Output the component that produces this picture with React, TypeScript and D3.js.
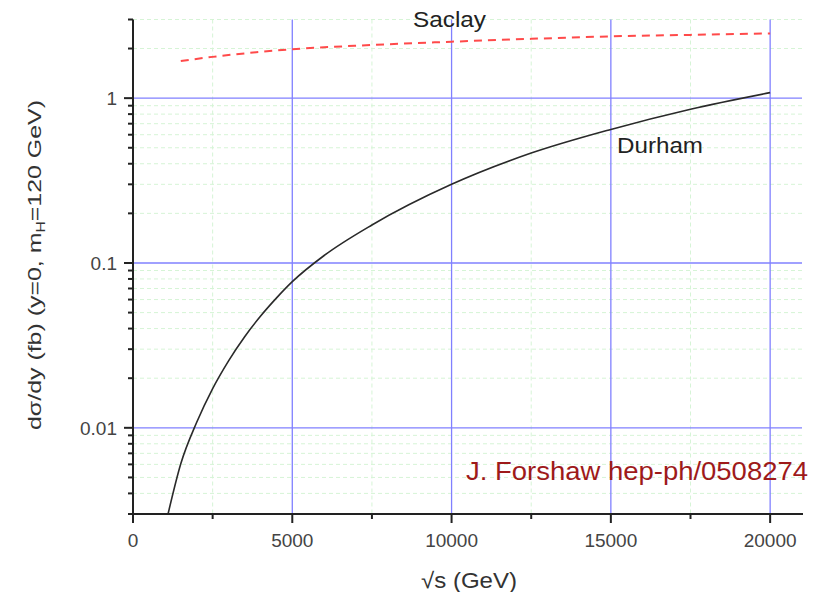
import React from "react";
import * as d3 from "d3";

const durhamX = [1100, 1500, 2000, 2500, 3000, 3500, 4000, 4500, 5000, 6000, 7500, 10000, 12500, 15000, 17500, 20000];
const durhamY = [0.003, 0.00605, 0.0108, 0.0173, 0.0255, 0.0356, 0.0475, 0.0612, 0.077, 0.111, 0.17, 0.30, 0.464, 0.646, 0.857, 1.08];
const saclayX = [1500, 2500, 5000, 7500, 10000, 12500, 15000, 17500, 20000];
const saclayY = [1.68, 1.78, 1.98, 2.10, 2.20, 2.29, 2.37, 2.42, 2.47];
const xMajorTicks = [0, 5000, 10000, 15000, 20000];
const xMinorTicks = [2500, 7500, 12500, 17500];
const yMajorTicks = [0.01, 0.1, 1];
const yTickLabels = ["0.01", "0.1", "1"];

const W = 825;
const H = 592;
const FONT = "'Liberation Sans', Arial, Helvetica, sans-serif";

export default function App() {
  const x = d3.scaleLinear().domain([0, 21000]).range([133, 802]);
  const y = d3.scaleLog().domain([0.003, 3]).range([514, 19.5]);

  const yMinor: number[] = [];
  [0.001, 0.01, 0.1, 1].forEach((dec) => {
    for (let k = 2; k <= 9; k++) {
      const v = dec * k;
      if (v >= 0.003 && v <= 3.0001) yMinor.push(v);
    }
  });

  const line = d3
    .line<[number, number]>()
    .x((d) => x(d[0]))
    .y((d) => y(d[1]))
    .curve(d3.curveMonotoneX);

  const durham = durhamX.map((v, i) => [v, durhamY[i]] as [number, number]);
  const saclay = saclayX.map((v, i) => [v, saclayY[i]] as [number, number]);

  const [x0, x1] = x.range();
  const [yb, yt] = y.range();

  return (
    <svg
      width={W}
      height={H}
      style={{ position: "absolute", left: 0, top: 0, background: "#fff" }}
      fontFamily={FONT}
    >
      <rect x={0} y={0} width={W} height={H} fill="#fff" />
      <defs>
        <clipPath id="plot">
          <rect x={x0} y={yt} width={x1 - x0} height={yb - yt} />
        </clipPath>
      </defs>

      {/* minor grid */}
      {yMinor.map((v) => (
        <line key={"gy" + v} x1={x0} x2={x1} y1={y(v)} y2={y(v)} stroke="#d6f4d6" strokeWidth={1} strokeDasharray="4,3" />
      ))}
      {xMinorTicks.map((v) => (
        <line key={"gx" + v} x1={x(v)} x2={x(v)} y1={yt} y2={yb} stroke="#d6f4d6" strokeWidth={1} strokeDasharray="4,3" />
      ))}

      {/* major grid */}
      {yMajorTicks.map((v) => (
        <line key={"My" + v} x1={x0} x2={x1} y1={y(v)} y2={y(v)} stroke="#8080ff" strokeWidth={1.3} />
      ))}
      {xMajorTicks.filter((v) => v > 0).map((v) => (
        <line key={"Mx" + v} x1={x(v)} x2={x(v)} y1={yt} y2={yb} stroke="#8080ff" strokeWidth={1.3} />
      ))}

      {/* curves */}
      <g clipPath="url(#plot)">
        <path d={line(saclay) || ""} fill="none" stroke="#ff4a4a" strokeWidth={2} strokeDasharray="8,6" />
        <path d={line(durham) || ""} fill="none" stroke="#2a2a2a" strokeWidth={1.6} />
      </g>

      {/* axes */}
      <line x1={x0} x2={x0} y1={yt} y2={yb + 1} stroke="#222" strokeWidth={2} />
      <line x1={x0 - 1} x2={x1 + 1} y1={yb} y2={yb} stroke="#222" strokeWidth={2} />

      {yMajorTicks.map((v) => (
        <line key={"ty" + v} x1={x0 - 9} x2={x0} y1={y(v)} y2={y(v)} stroke="#222" strokeWidth={2} />
      ))}
      {yMinor.map((v) => (
        <line key={"tym" + v} x1={x0 - 5} x2={x0} y1={y(v)} y2={y(v)} stroke="#222" strokeWidth={2} />
      ))}
      {xMajorTicks.map((v) => (
        <line key={"tx" + v} x1={x(v)} x2={x(v)} y1={yb} y2={yb + 9} stroke="#222" strokeWidth={2} />
      ))}
      {xMinorTicks.map((v) => (
        <line key={"txm" + v} x1={x(v)} x2={x(v)} y1={yb} y2={yb + 5} stroke="#222" strokeWidth={2} />
      ))}

      {/* tick labels */}
      {yMajorTicks.map((v, i) => (
        <text key={"ly" + v} x={117} y={y(v) + 7} textAnchor="end" fontSize={19} fill="#444">
          {yTickLabels[i]}
        </text>
      ))}
      {xMajorTicks.map((v) => (
        <text key={"lx" + v} x={x(v)} y={547} textAnchor="middle" fontSize={19} fill="#444">
          {String(v)}
        </text>
      ))}

      {/* axis titles */}
      <text x={421} y={588} fontSize={22} fill="#333" textLength={96} lengthAdjust="spacingAndGlyphs">
        √s (GeV)
      </text>
      <text
        transform="translate(41,265) rotate(-90)"
        textAnchor="middle"
        fontSize={19}
        fill="#333"
        textLength={330}
        lengthAdjust="spacingAndGlyphs"
      >
        dσ/dy (fb)  (y=0, m<tspan fontSize={12} dy={4}>H</tspan><tspan dy={-4}>=120 GeV)</tspan>
      </text>

      {/* annotations */}
      <text x={413} y={26.5} fontSize={22} fill="#222" textLength={73} lengthAdjust="spacingAndGlyphs">
        Saclay
      </text>
      <text x={617} y={153} fontSize={22} fill="#222" textLength={86} lengthAdjust="spacingAndGlyphs">
        Durham
      </text>
      <text x={466} y={480} fontSize={25} fill="#9e1a1a" textLength={342} lengthAdjust="spacingAndGlyphs">
        J. Forshaw hep-ph/0508274
      </text>
    </svg>
  );
}
